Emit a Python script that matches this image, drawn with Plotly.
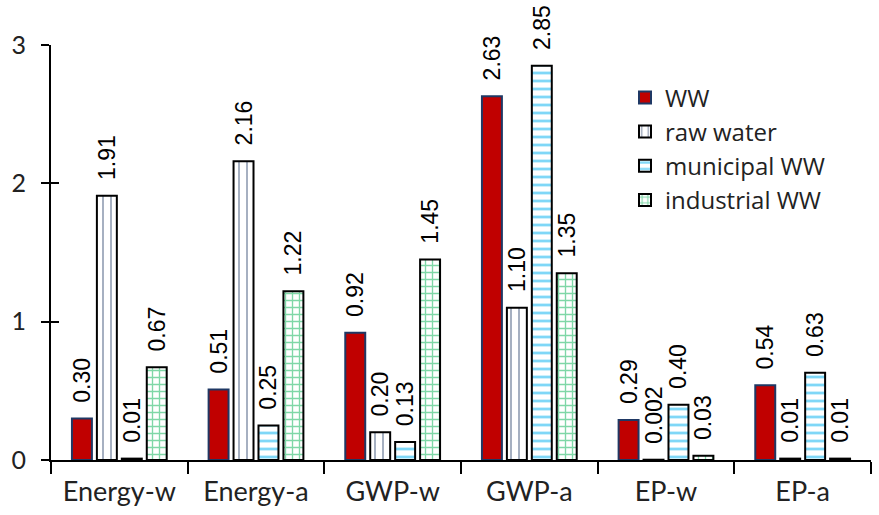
import plotly.graph_objects as go

categories = ["Energy-w", "Energy-a", "GWP-w", "GWP-a", "EP-w", "EP-a"]
series_names = ["WW", "raw water", "municipal WW", "industrial WW"]
ww = [0.30, 0.51, 0.92, 2.63, 0.29, 0.54]
raw_water = [1.91, 2.16, 0.20, 1.10, 0.002, 0.01]
municipal = [0.01, 0.25, 0.13, 2.85, 0.40, 0.63]
industrial = [0.67, 1.22, 1.45, 1.35, 0.03, 0.01]
ww_lbl = ["0.30", "0.51", "0.92", "2.63", "0.29", "0.54"]
raw_lbl = ["1.91", "2.16", "0.20", "1.10", "0.002", "0.01"]
mun_lbl = ["0.01", "0.25", "0.13", "2.85", "0.40", "0.63"]
ind_lbl = ["0.67", "1.22", "1.45", "1.35", "0.03", "0.01"]
y_ticks = [0, 1, 2, 3]

PAD = "\u00a0\u00a0"
lbl_font = dict(family="Liberation Sans, Arial", size=23, color="black")


def pad(lbls):
    return [PAD + s for s in lbls]


fig = go.Figure()
fig.add_trace(go.Bar(
    name=series_names[0], x=categories, y=ww, text=pad(ww_lbl),
    marker=dict(color="#C00000", line=dict(color="#1F3864", width=2)),
))
fig.add_trace(go.Bar(
    name=series_names[1], x=categories, y=raw_water, text=pad(raw_lbl),
    marker=dict(color="white", line=dict(color="black", width=2),
                pattern=dict(shape="|", fgcolor="#1F3864", bgcolor="white",
                             size=8, solidity=0.2)),
))
fig.add_trace(go.Bar(
    name=series_names[2], x=categories, y=municipal, text=pad(mun_lbl),
    marker=dict(color="white", line=dict(color="black", width=2),
                pattern=dict(shape="-", fgcolor="#00B0F0", bgcolor="white",
                             size=8, solidity=0.35)),
))
fig.add_trace(go.Bar(
    name=series_names[3], x=categories, y=industrial, text=pad(ind_lbl),
    marker=dict(color="white", line=dict(color="black", width=2),
                pattern=dict(shape="+", fgcolor="#00B050", bgcolor="white",
                             size=7, solidity=0.35)),
))
fig.update_traces(textposition="outside", textangle=-90, textfont=lbl_font,
                  cliponaxis=False, constraintext="none")

fig.update_layout(
    width=879, height=515,
    margin=dict(l=51, r=8, t=45, b=55),
    plot_bgcolor="white", paper_bgcolor="white",
    barmode="group", bargap=0.27, bargroupgap=0.2,
    font=dict(family="Lato, Open Sans", color="#222222"),
    showlegend=True,
    legend=dict(x=0.70, y=0.927, xanchor="left", yanchor="top",
                font=dict(family="Open Sans", size=24, color="#222222"),
                bgcolor="rgba(0,0,0,0)", tracegroupgap=0, itemwidth=30),
    xaxis=dict(showline=True, linecolor="black", linewidth=2,
               ticks="outside", tickson="boundaries", ticklen=12,
               tickcolor="black", tickwidth=2, ticklabelstandoff=7,
               tickfont=dict(size=27, color="#222222")),
    yaxis=dict(range=[0, 3], tickvals=y_ticks, showline=True, linecolor="black",
               linewidth=2, ticks="outside", ticklen=8, tickcolor="black",
               tickwidth=2, showgrid=False, zeroline=False,
               ticklabelstandoff=10,
               tickfont=dict(size=25, color="#222222")),
    yaxis2=dict(range=[0, 3], tickvals=y_ticks, overlaying="y", matches="y",
                ticks="inside", ticklen=8, tickcolor="black", tickwidth=2,
                showticklabels=False, showgrid=False, zeroline=False,
                showline=False),
)
fig.add_trace(go.Scatter(x=[categories[0]], y=[0], yaxis="y2", mode="markers",
                         marker=dict(opacity=0), showlegend=False,
                         hoverinfo="skip"))
fig.write_html("out.html")
